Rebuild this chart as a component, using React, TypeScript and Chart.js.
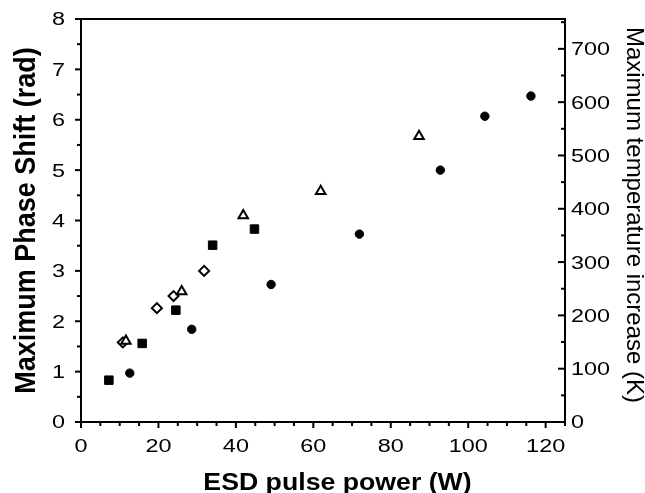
import { useEffect, useRef } from 'react';
import { Chart, registerables } from 'chart.js';

Chart.register(...registerables);

// ---- data ----
const squarePower = [7.2, 15.8, 24.5, 34.0, 44.8];
const squarePhase = [0.83, 1.56, 2.22, 3.51, 3.83];

const circlePower = [12.6, 28.6, 49.1, 71.9, 92.8, 104.3, 116.2];
const circlePhase = [0.97, 1.84, 2.73, 3.73, 5.0, 6.07, 6.47];

const trianglePower = [11.6, 26.0, 41.9, 61.9, 87.3];
const trianglePhase = [1.61, 2.59, 4.1, 4.58, 5.67];

const diamondPower = [10.8, 19.6, 23.9, 31.8];
const diamondPhase = [1.58, 2.26, 2.5, 3.0];

const xTicks = [0, 20, 40, 60, 80, 100, 120];
const yTicks = [0, 1, 2, 3, 4, 5, 6, 7, 8];
const y2Ticks = [0, 100, 200, 300, 400, 500, 600, 700];

const xTitle = 'ESD pulse power (W)';
const yTitle = 'Maximum Phase Shift (rad)';
const y2Title = 'Maximum temperature increase (K)';

const X_MAX = 125;
const Y_MAX = 8;
const Y2_MAX = 756;

const FONT = '"Liberation Sans", Arial, Helvetica, sans-serif';

function pts(xs: number[], ys: number[]) {
  return xs.map((x, i) => ({ x, y: ys[i] }));
}

function drawText(
  ctx: CanvasRenderingContext2D,
  s: string,
  x: number,
  y: number,
  font: string,
  align: CanvasTextAlign,
  sx = 1,
  sy = 1,
  rot = 0,
) {
  ctx.save();
  ctx.translate(x, y);
  ctx.rotate(rot);
  ctx.scale(sx, sy);
  ctx.font = font;
  ctx.textAlign = align;
  ctx.textBaseline = 'alphabetic';
  ctx.fillStyle = '#000';
  ctx.fillText(s, 0, 0);
  ctx.restore();
}

const framePlugin = {
  id: 'frameAndText',
  beforeDatasetsDraw(chart: any) {
    const { ctx, chartArea } = chart;
    const xs = chart.scales.x;
    const ys = chart.scales.y;
    const y2s = chart.scales.y2;
    const { left, right, top, bottom } = chartArea;
    ctx.save();
    ctx.strokeStyle = '#000';
    ctx.lineWidth = 2;
    ctx.strokeRect(left, top, right - left, bottom - top);

    const line = (x1: number, y1: number, x2: number, y2: number) => {
      ctx.beginPath();
      ctx.moveTo(x1, y1);
      ctx.lineTo(x2, y2);
      ctx.stroke();
    };

    // x ticks (outward, down)
    for (let v = 0; v <= X_MAX; v += 5) {
      const px = xs.getPixelForValue(v);
      const major = v % 20 === 0;
      line(px, bottom, px, bottom + (major ? 6 : 4));
    }
    // left y ticks (outward)
    for (let v = 0; v <= Y_MAX + 1e-9; v += 0.5) {
      const py = ys.getPixelForValue(v);
      const major = Math.abs(v - Math.round(v)) < 1e-9;
      line(left, py, left - (major ? 6 : 4), py);
    }
    // right y ticks (inward)
    for (let v = 0; v <= Y2_MAX; v += 50) {
      const py = y2s.getPixelForValue(v);
      const major = v % 100 === 0;
      line(right, py, right - (major ? 7 : 4), py);
    }
    ctx.restore();

    const tickFont = `18px ${FONT}`;
    const capHalf = 18 * 0.716 / 2;
    xTicks.forEach((v) => {
      drawText(ctx, String(v), xs.getPixelForValue(v), 451.5, tickFont, 'center', 1.3);
    });
    yTicks.forEach((v) => {
      drawText(ctx, String(v), 65, ys.getPixelForValue(v) + capHalf, tickFont, 'right', 1.3);
    });
    y2Ticks.forEach((v) => {
      drawText(ctx, String(v), 571, y2s.getPixelForValue(v) + capHalf, tickFont, 'left', 1.3);
    });

    drawText(ctx, xTitle, 337.5, 490, `bold 23px ${FONT}`, 'center', 1.16);
    drawText(ctx, yTitle, 35, 220.5, `bold 27px ${FONT}`, 'center', 1, 1.08, -Math.PI / 2);
    drawText(ctx, y2Title, 627, 215, `24px ${FONT}`, 'center', 1, 1, Math.PI / 2);
  },
};

export default function App() {
  const ref = useRef<HTMLCanvasElement | null>(null);

  useEffect(() => {
    if (!ref.current) return;
    const common = {
      borderColor: '#000',
      showLine: false,
      yAxisID: 'y',
    };
    const chart = new Chart(ref.current, {
      type: 'scatter',
      data: {
        datasets: [
          {
            ...common,
            label: 'squares',
            data: pts(squarePower, squarePhase),
            pointStyle: 'rect',
            pointRadius: 6,
            borderWidth: 1,
            backgroundColor: '#000',
          },
          {
            ...common,
            label: 'circles',
            data: pts(circlePower, circlePhase),
            pointStyle: 'circle',
            pointRadius: 4.2,
            borderWidth: 1,
            backgroundColor: '#000',
          },
          {
            ...common,
            label: 'triangles',
            data: pts(trianglePower, trianglePhase),
            pointStyle: 'triangle',
            pointRadius: 5.5,
            borderWidth: 2,
            backgroundColor: '#fff',
          },
          {
            ...common,
            label: 'diamonds',
            data: pts(diamondPower, diamondPhase),
            pointStyle: 'rectRot',
            pointRadius: 5,
            borderWidth: 2,
            backgroundColor: '#fff',
          },
        ],
      },
      options: {
        animation: false,
        responsive: false,
        events: [],
        layout: { padding: { left: 81, right: 80, top: 19, bottom: 71 } },
        plugins: {
          legend: { display: false },
          tooltip: { enabled: false },
        },
        scales: {
          x: { type: 'linear', min: 0, max: X_MAX, display: false },
          y: { type: 'linear', min: 0, max: Y_MAX, display: false },
          y2: { type: 'linear', position: 'right', min: 0, max: Y2_MAX, display: false },
        },
      },
      plugins: [framePlugin],
    });
    return () => chart.destroy();
  }, []);

  return (
    <div style={{ position: 'absolute', left: 0, top: 0, width: 645, height: 493, background: '#fff' }}>
      <canvas ref={ref} width={645} height={493} style={{ display: 'block' }} />
    </div>
  );
}
